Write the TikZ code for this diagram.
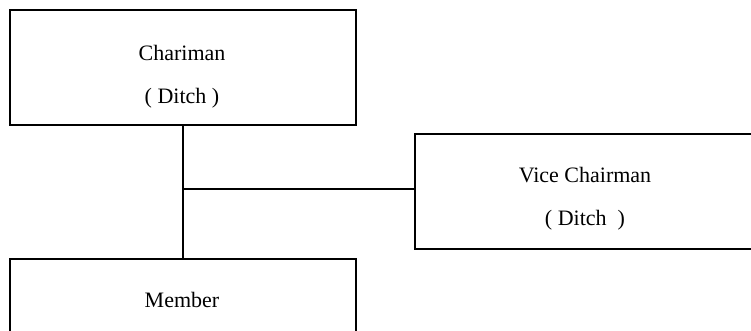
\documentclass[tikz,border=0pt]{standalone}
\usepackage{fontspec}
\setmainfont{Liberation Serif}
\begin{document}
\begin{tikzpicture}[x=1pt,y=-1pt,
  box/.style={draw,line width=1.6pt,minimum width=346pt,minimum height=115pt,inner sep=0pt,anchor=north west},
  lbl/.style={inner sep=0pt,font=\fontsize{22}{26}\selectfont},
  conn/.style={line width=1.6pt}]
\useasboundingbox (0,0) rectangle (751,331);
\clip (0,0) rectangle (751,331);
\node[box] (chair) at (9,9) {};
\node[box,minimum width=400pt] (vice) at (414,133) {};
\node[box] (member) at (9,258) {};
\node[lbl] (t1) at (182,53) {Chariman};
\node[lbl] (t2) at (182,98) {( Ditch )};
\node[lbl] (t3) at (585,175) {Vice Chairman};
\node[lbl] (t4) at (585,220) {( Ditch\ \ )};
\node[lbl] (t5) at (182,300) {Member};
\coordinate (j) at (182,189);
\draw[conn] (chair.south) -- (member.north);
\draw[conn] (j) -- (j -| vice.west);
\end{tikzpicture}
\end{document}
